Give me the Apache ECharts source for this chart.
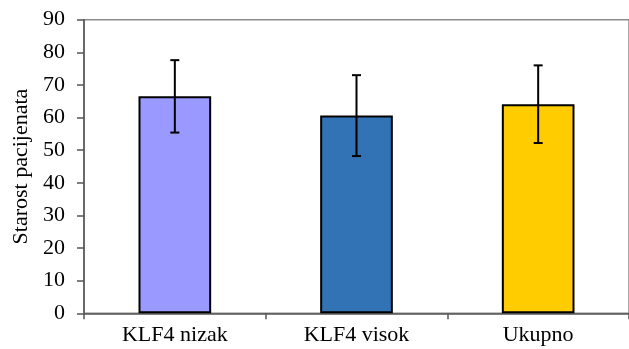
<!DOCTYPE html>
<html>
<head>
<meta charset="utf-8">
<script src="https://cdn.jsdelivr.net/npm/echarts@6/dist/echarts.min.js"></script>
<style>
  html, body { margin: 0; padding: 0; background: #fff; }
  #chart { width: 629px; height: 349px; }
</style>
</head>
<body>
<div id="chart"></div>
<script>
// Patient age by KLF4 expression group: mean ± SD
const categories = ['KLF4 nizak', 'KLF4 visok', 'Ukupno'];
const meanAge = [66.5, 60.6, 64.1];
const sdAge = [11.1, 12.4, 11.9];
const barColors = ['#9999FF', '#3173B5', '#FFCC00'];
const yTicks = [0, 10, 20, 30, 40, 50, 60, 70, 80, 90];

const serif = '"Liberation Serif", "Times New Roman", serif';

const chart = echarts.init(document.getElementById('chart'), null, { renderer: 'canvas' });

const errorData = categories.map((c, i) => [i, meanAge[i] - sdAge[i], meanAge[i] + sdAge[i]]);

chart.setOption({
  animation: false,
  backgroundColor: '#ffffff',
  grid: {
    left: 84,
    top: 19.7,
    bottom: 35.7,
    right: -10,
    show: true,
    borderColor: '#8a8a8a',
    borderWidth: 1.5,
    backgroundColor: 'transparent'
  },
  xAxis: {
    type: 'category',
    data: categories,
    boundaryGap: true,
    axisLine: { show: true, lineStyle: { color: '#555', width: 1.5 } },
    axisTick: { show: true, length: 6, alignWithLabel: false, lineStyle: { color: '#555', width: 1.5 } },
    axisLabel: { color: '#000', fontFamily: serif, fontSize: 22, margin: 11 }
  },
  yAxis: {
    type: 'value',
    min: yTicks[0],
    max: yTicks[yTicks.length - 1],
    interval: yTicks[1] - yTicks[0],
    name: 'Starost pacijenata',
    nameLocation: 'middle',
    nameRotate: 90,
    nameGap: 52,
    nameTextStyle: { color: '#000', fontFamily: serif, fontSize: 22 },
    axisLine: { show: true, lineStyle: { color: '#555', width: 1.5 } },
    axisTick: { show: true, length: 7, lineStyle: { color: '#555', width: 1.5 } },
    axisLabel: { color: '#000', fontFamily: serif, fontSize: 22, margin: 19 },
    splitLine: { show: false }
  },
  series: [
    {
      type: 'bar',
      barWidth: '40%',
      data: meanAge.map((v, i) => ({
        value: v,
        itemStyle: { color: barColors[i], borderColor: '#000', borderWidth: 2 }
      }))
    },
    {
      type: 'custom',
      data: errorData,
      z: 10,
      renderItem: function (params, api) {
        const x = api.value(0);
        const lo = api.coord([x, api.value(1)]);
        const hi = api.coord([x, api.value(2)]);
        const half = 4.5;
        const style = { stroke: '#000', lineWidth: 2 };
        return {
          type: 'group',
          children: [
            { type: 'line', shape: { x1: hi[0], y1: hi[1], x2: lo[0], y2: lo[1] }, style: style },
            { type: 'line', shape: { x1: hi[0] - half, y1: hi[1], x2: hi[0] + half, y2: hi[1] }, style: style },
            { type: 'line', shape: { x1: lo[0] - half, y1: lo[1], x2: lo[0] + half, y2: lo[1] }, style: style }
          ]
        };
      }
    }
  ]
});
</script>
</body>
</html>
